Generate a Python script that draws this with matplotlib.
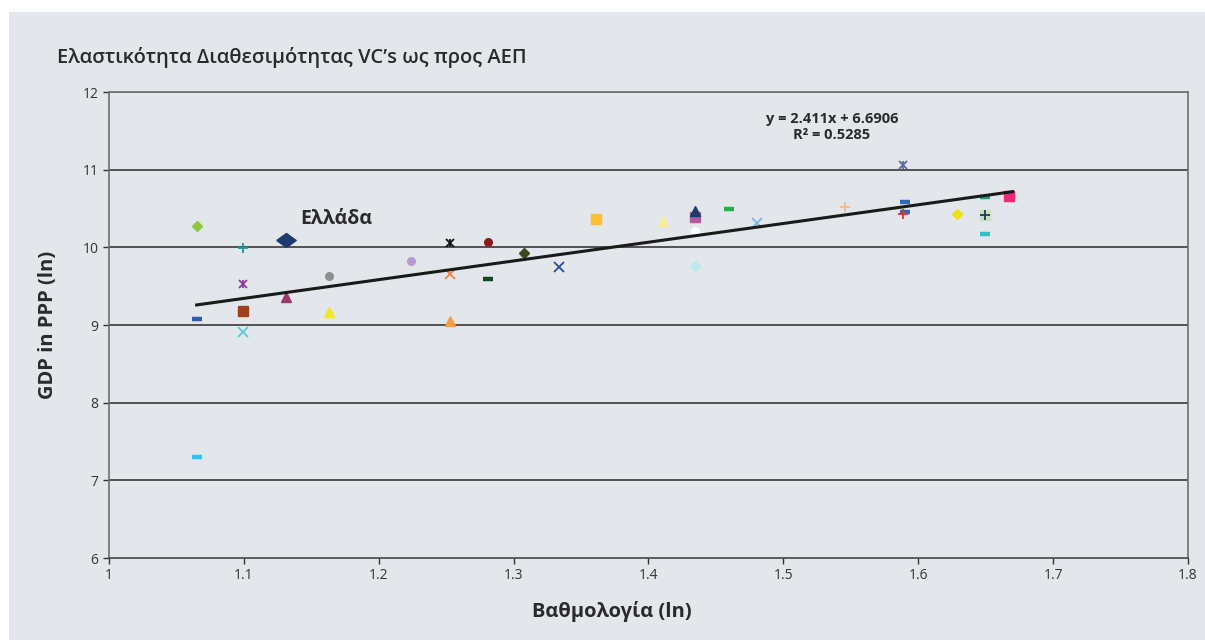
import matplotlib
matplotlib.use("Agg")
import matplotlib.pyplot as plt
from matplotlib.patches import Rectangle

plt.rcParams['font.family'] = ['Open Sans', 'DejaVu Sans']

# ------------------ DATE ------------------
score = [1.065, 1.065, 1.065, 1.099, 1.099, 1.099, 1.099, 1.131, 1.131,
         1.163, 1.163, 1.224, 1.253, 1.253, 1.253, 1.281, 1.281, 1.308,
         1.334, 1.361, 1.411, 1.4345, 1.4345, 1.4345, 1.4345, 1.460, 1.4805,
         1.546, 1.589, 1.5905, 1.5905, 1.589, 1.629, 1.6495, 1.6495, 1.6495,
         1.6495, 1.667]
gdp = [10.275, 9.077, 7.30, 9.99, 9.528, 9.18, 8.91, 10.095, 9.36,
       9.63, 9.17, 9.82, 10.06, 9.66, 9.05, 10.07, 9.59, 9.93,
       9.75, 10.36, 10.34, 10.47, 10.39, 10.21, 9.76, 10.49, 10.31,
       10.52, 11.06, 10.58, 10.455, 10.43, 10.43, 10.65, 10.42, 10.42,
       10.17, 10.66]
markers = ['D', '_', '_', '+', '*x', 's', 'x', 'D', '^',
           'o', '^', 'o', '*x', 'x', '^', 'o', '_', 'D',
           'x', 's', '^', '^', 's', 'o', 'D', '_', 'x',
           '+', '*x', '_', '_', '+', 'D', '_', 's', '+',
           '_', 's']
colors = ['#8dc63f', '#2a5db0', '#29c5f6', '#1a9a9a', '#8b3a9a', '#a0401e', '#5bc8d8', '#1f3a6e', '#9b3a6a',
          '#8a9090', '#f0e62a', '#b79ad0', '#111111', '#f0804a', '#f5a040', '#8b1a1a', '#0f4a24', '#3a4a1a',
          '#2a4aa8', '#fbc02d', '#f5ef9a', '#1f3a6e', '#b05aa0', '#ffffff', '#bde8f0', '#22b04a', '#7ab4e8',
          '#f8b88a', '#5a6aa8', '#2e6ab8', '#2e6ab8', '#e83030', '#f0e010', '#1a9a70', '#c8e0c0', '#1f3a5a',
          '#30c0c8', '#f0287a']
greece = 7

slope, intercept, r2 = 2.411, 6.6906, 0.5285
trend_x = [1.065, 1.67]

title = "Ελαστικότητα Διαθεσιμότητας VC’s ως προς ΑΕΠ"
xlabel = "Βαθμολογία (ln)"
ylabel = "GDP in PPP (ln)"
xticks = [1, 1.1, 1.2, 1.3, 1.4, 1.5, 1.6, 1.7, 1.8]
xticklabels = ['1', '1.1', '1.2', '1.3', '1.4', '1.5', '1.6', '1.7', '1.8']
yticks = [6, 7, 8, 9, 10, 11, 12]

# ------------------ FIGURA ------------------
bg = '#e3e6eb'
fig = plt.figure(figsize=(12.05, 6.4), dpi=100)
fig.patch.set_facecolor('white')
fig.patches.append(Rectangle((9 / 1205, 0), 1 - 9 / 1205, 1 - 12 / 640,
                             transform=fig.transFigure, facecolor=bg,
                             edgecolor='none', zorder=-5))

ax = fig.add_axes([109 / 1205, 82 / 640, 1079 / 1205, 466 / 640])
ax.set_facecolor(bg)
ax.set_xlim(1, 1.8)
ax.set_ylim(6, 12)

for y in yticks[1:-1]:
    ax.axhline(y, color='#2a2a2a', lw=1.1, zorder=1)
ax.axhline(12, color='#7a7a7a', lw=1.2, zorder=1)

for s in ax.spines.values():
    s.set_color('#6e6e6e')
    s.set_linewidth(1.2)
ax.spines['bottom'].set_color('#444444')

ax.set_xticks(xticks)
ax.set_xticklabels(xticklabels)
ax.set_yticks(yticks)
ax.tick_params(axis='both', labelsize=10, colors='#333333', length=4, width=1, direction='out')
ax.tick_params(axis='x', pad=3)

# romb lat pentru Grecia
wide_diamond = [(-1, 0), (0, 0.72), (1, 0), (0, -0.72), (-1, 0)]

for i in range(len(score)):
    m = markers[i]
    c = colors[i]
    if i == greece:
        ax.plot(score[i], gdp[i], marker=wide_diamond, ms=14, color=c, mec=c, ls='none', zorder=4)
    elif m == '_':
        ax.plot(score[i], gdp[i], marker='_', ms=7, mew=3.2, color=c, ls='none', zorder=3)
    elif m == '*x':
        ax.plot(score[i], gdp[i], marker='x', ms=6, mew=1.3, color=c, ls='none', zorder=3)
        ax.plot(score[i], gdp[i], marker='|', ms=6, mew=1.3, color=c, ls='none', zorder=3)
    elif m in ('+', 'x'):
        ax.plot(score[i], gdp[i], marker=m, ms=7, mew=1.3, color=c, ls='none', zorder=3)
    elif m == 'D':
        ax.plot(score[i], gdp[i], marker='D', ms=5, color=c, mec=c, ls='none', zorder=3)
    elif m == 's':
        ax.plot(score[i], gdp[i], marker='s', ms=7, color=c, mec=c, ls='none', zorder=2.5)
    elif m == '^':
        ax.plot(score[i], gdp[i], marker='^', ms=7, color=c, mec=c, ls='none', zorder=3)
    else:
        ax.plot(score[i], gdp[i], marker='o', ms=5.5, color=c, mec=c, ls='none', zorder=3)

trend_y = [slope * x + intercept for x in trend_x]
ax.plot(trend_x, trend_y, color='#1a1a1a', lw=2.2, zorder=3.5)

ax.text(1.536, 11.55, f"y = {slope}x + {intercept}\nR² = {r2}", ha='center', va='center',
        fontsize=10.5, fontweight='bold', color='#2a2a2a', linespacing=1.15)
ax.text(score[greece] + 0.0106, gdp[greece] + 0.27, "Ελλάδα", ha='left', va='center',
        fontsize=14, fontweight='bold', color='#2a2a2a')

fig.text(57 / 1205, 1 - 58 / 640, title, ha='left', va='center', fontsize=14.5,
         fontweight='semibold', color='#2a2a2a')
fig.text(612 / 1205, 1 - 612 / 640, xlabel, ha='center', va='center', fontsize=14.5,
         fontweight='bold', color='#2a2a2a')
fig.text(48 / 1205, 1 - 325 / 640, ylabel, ha='center', va='center', fontsize=14.5,
         fontweight='bold', color='#2a2a2a', rotation=90)

fig.savefig('out.png', dpi=100, facecolor=fig.get_facecolor())
